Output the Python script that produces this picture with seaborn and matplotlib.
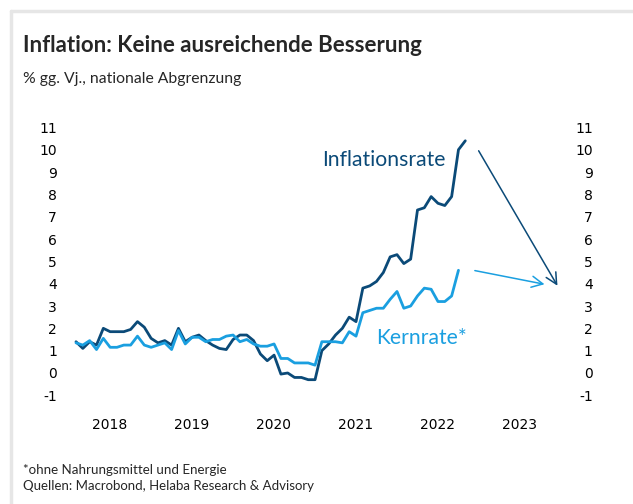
import pandas as pd
import numpy as np
import matplotlib
matplotlib.use("Agg")
import matplotlib.pyplot as plt
import seaborn as sns

# monthly values, Jan 2018 onwards (% yoy)
inflation = [1.4, 1.1, 1.4, 1.25, 2.0, 1.85, 1.85, 1.85, 1.95, 2.3, 2.05, 1.55,
             1.35, 1.45, 1.25, 2.0, 1.4, 1.6, 1.7, 1.45, 1.25, 1.1, 1.05, 1.5,
             1.7, 1.7, 1.45, 0.85, 0.55, 0.8, -0.05, 0.0, -0.2, -0.2, -0.3, -0.3,
             1.0, 1.3, 1.7, 2.0, 2.5, 2.3, 3.8, 3.9, 4.1, 4.5, 5.2, 5.3,
             4.9, 5.1, 7.3, 7.4, 7.9, 7.6, 7.5, 7.9, 10.0, 10.4]
core = [1.35, 1.25, 1.45, 1.05, 1.55, 1.15, 1.15, 1.25, 1.25, 1.65, 1.25, 1.15,
        1.25, 1.35, 1.05, 1.9, 1.3, 1.6, 1.6, 1.4, 1.5, 1.5, 1.65, 1.7,
        1.4, 1.5, 1.3, 1.2, 1.2, 1.3, 0.65, 0.65, 0.45, 0.45, 0.45, 0.35,
        1.4, 1.4, 1.4, 1.35, 1.85, 1.65, 2.7, 2.8, 2.9, 2.9, 3.3, 3.65,
        2.9, 3.0, 3.45, 3.8, 3.75, 3.2, 3.2, 3.45, 4.6]
years = ["2018", "2019", "2020", "2021", "2022", "2023"]
yticks = list(range(-1, 12))

# arrow targets (end of 2023)
infl_target = (70.7, 3.8)
core_target = (69.0, 3.95)

dark = "#0b4a78"
light = "#1a9fe0"

df = pd.DataFrame({
    "month": list(range(len(inflation))) + list(range(len(core))),
    "value": inflation + core,
    "series": ["Inflationsrate"] * len(inflation) + ["Kernrate*"] * len(core),
})

sns.set_theme(style="white")
plt.rcParams["font.family"] = ["DejaVu Sans"]

fig = plt.figure(figsize=(6.33, 5.04), dpi=100)
ax = fig.add_axes([0.0986, 0.1935, 0.8379, 0.5759])

sns.lineplot(data=df, x="month", y="value", hue="series",
             palette={"Inflationsrate": dark, "Kernrate*": light},
             linewidth=2.0, legend=False, ax=ax)

ax.set_xlim(-1.99, 75.67)
ax.set_ylim(-1.5, 11.5)
ax.set_yticks(yticks)
ax.set_yticklabels([str(t) for t in yticks])
ax.set_xticks([(k * 12) + 4.9 for k in range(len(years))])
ax.set_xticklabels(years)
ax.set_xlabel("")
ax.set_ylabel("")
for s in ax.spines.values():
    s.set_visible(False)
ax.tick_params(axis="both", length=0, labelsize=10, colors="black")
ax.tick_params(axis="y", pad=4)
ax.tick_params(axis="x", pad=8)

ax2 = ax.twinx()
ax2.set_ylim(ax.get_ylim())
ax2.set_yticks(yticks)
ax2.set_yticklabels([str(t) for t in yticks])
for s in ax2.spines.values():
    s.set_visible(False)
ax2.tick_params(axis="y", length=0, labelsize=10, pad=0, colors="black")
for lab in ax2.get_yticklabels():
    lab.set_horizontalalignment("right")

# series labels
ax.text(36.0, 9.55, "Inflationsrate", color=dark, fontsize=15.2, family="Lato",
        va="center", ha="left")
ax.text(44.0, 1.57, "Kernrate*", color=light, fontsize=15.2, family="Lato",
        va="center", ha="left")

# arrows to 2023 forecast
ax.annotate("", xy=infl_target, xytext=(58.75, 10.06),
            arrowprops=dict(arrowstyle="->", color=dark, lw=1.1,
                            mutation_scale=20))
ax.annotate("", xy=core_target, xytext=(58.0, 4.61),
            arrowprops=dict(arrowstyle="->", color=light, lw=1.1,
                            mutation_scale=20))

# titles and notes
fig.text(23 / 633, 1 - 46 / 504, "Inflation: Keine ausreichende Besserung",
         fontsize=16, fontweight="bold", family="Lato", va="center")
fig.text(23 / 633, 1 - 79 / 504, "% gg. Vj., nationale Abgrenzung",
         fontsize=11.3, family="Lato", va="center")
fig.text(23 / 633, 1 - 470 / 504, "*ohne Nahrungsmittel und Energie",
         fontsize=9.6, family="Lato", va="center")
fig.text(23 / 633, 1 - 486 / 504, "Quellen: Macrobond, Helaba Research & Advisory",
         fontsize=9.5, family="Lato", va="center")

# light frame on top and left
fig.add_artist(plt.Line2D([11 / 633, 1], [1 - 11 / 504, 1 - 11 / 504],
                          color="#e6e6e6", lw=2.5, transform=fig.transFigure))
fig.add_artist(plt.Line2D([11 / 633, 11 / 633], [0, 1 - 11 / 504],
                          color="#e6e6e6", lw=2.5, transform=fig.transFigure))

fig.savefig("out.png", dpi=100)
